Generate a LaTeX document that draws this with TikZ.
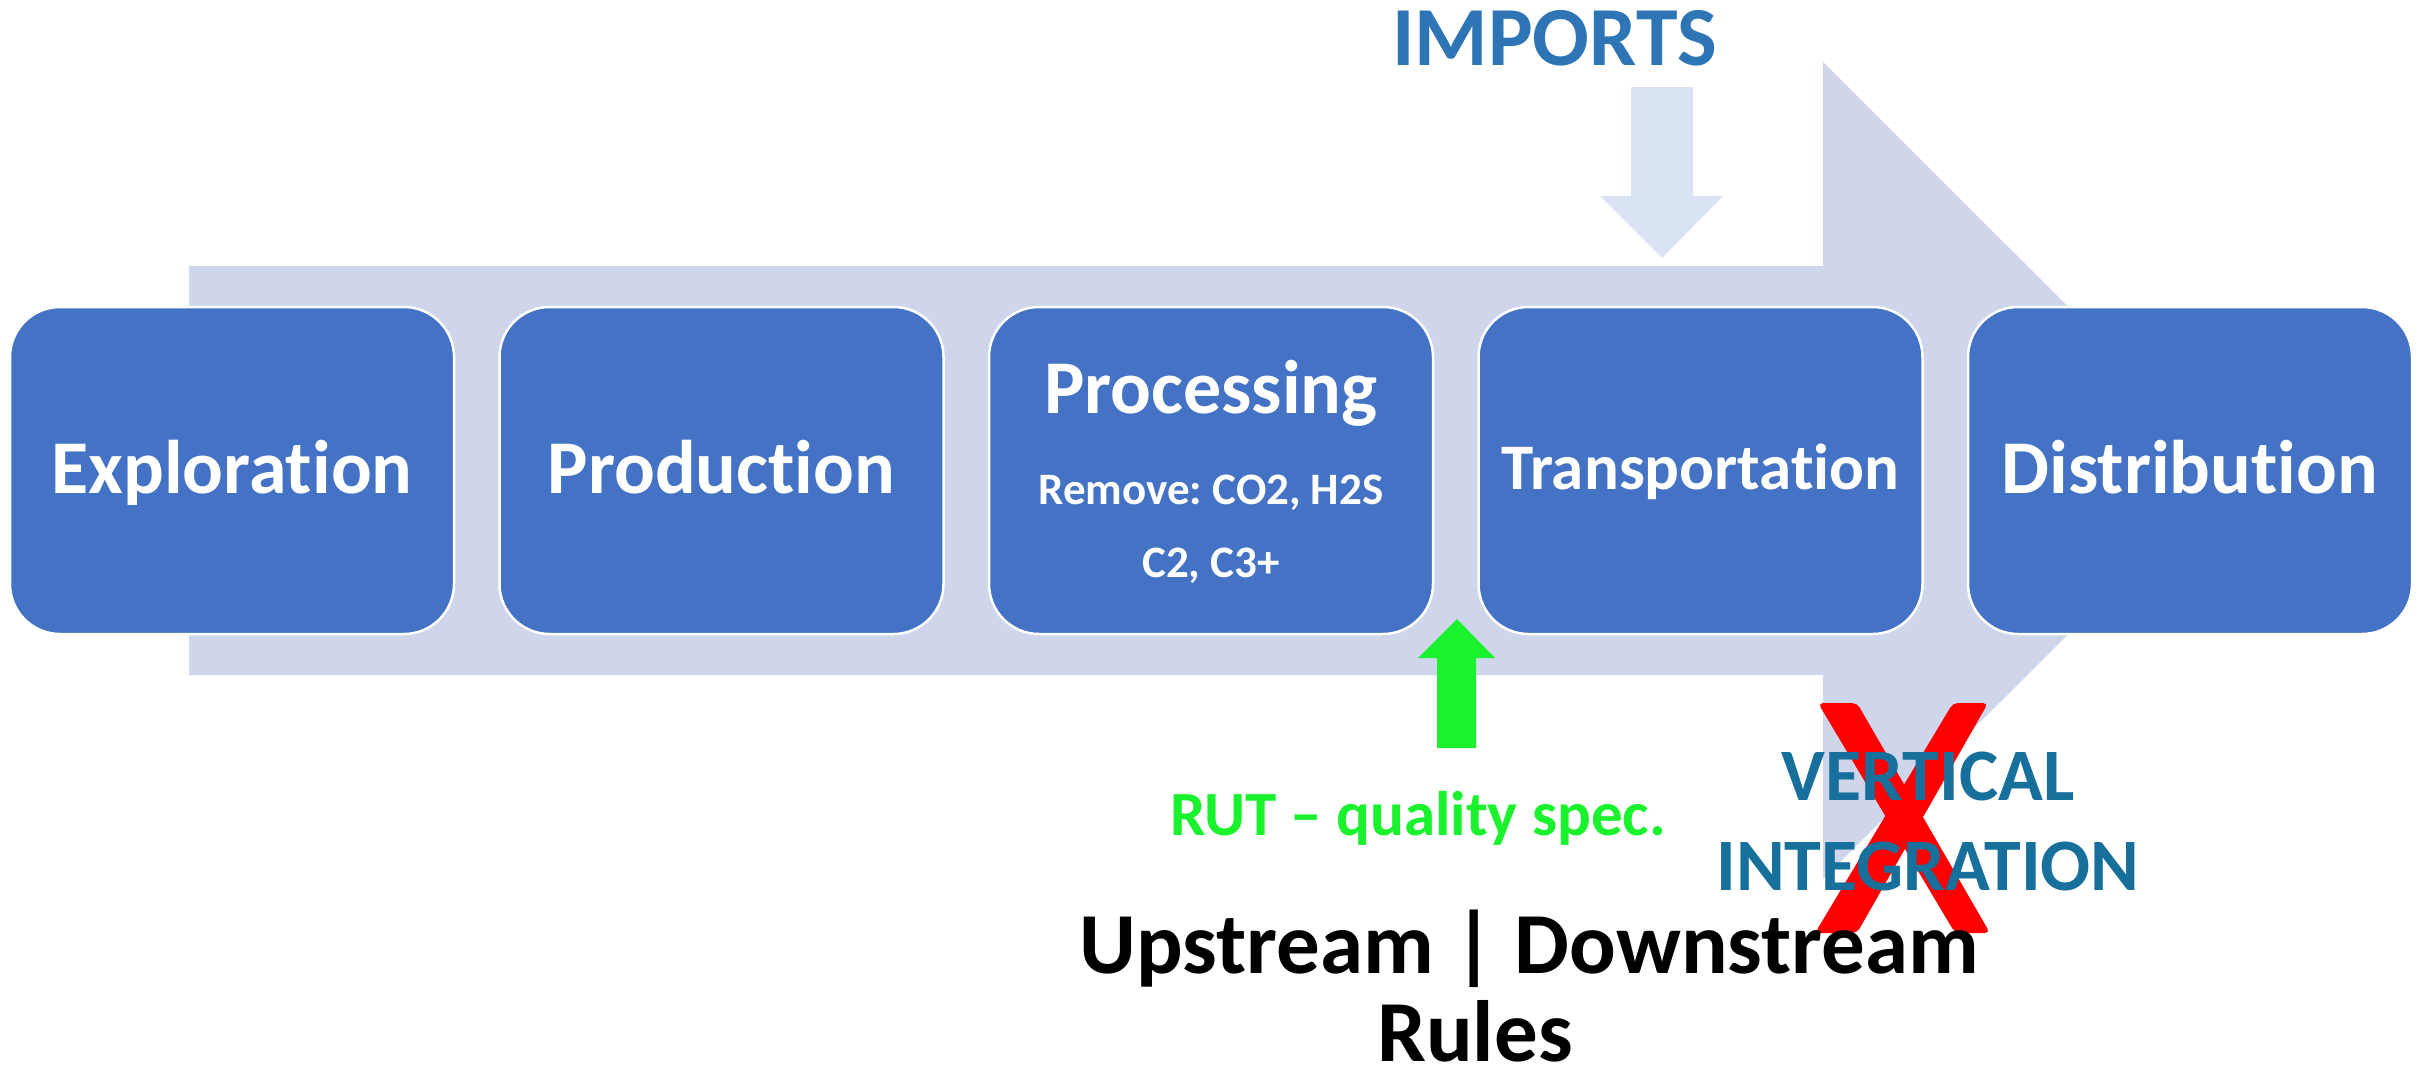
\documentclass[tikz,border=0pt]{standalone}
\usepackage{fontspec}
\setmainfont{Carlito}[RawFeature={-liga;-clig;-dlig}]
\frenchspacing
\definecolor{boxblue}{HTML}{4472C4}
\definecolor{arrowgray}{HTML}{CFD5EA}
\definecolor{importfill}{HTML}{DAE3F3}
\definecolor{importtext}{HTML}{2E75B6}
\definecolor{vitext}{RGB}{23,111,156}
\definecolor{rutgreen}{RGB}{26,242,46}
\definecolor{xred}{RGB}{255,0,0}
\newcommand{\myfs}[1]{\fontsize{#1}{#1}\selectfont\bfseries}
\tikzset{
  stagebox/.style={draw=white, line width=2.5pt, fill=boxblue, rounded corners=50pt,
    minimum width=444pt, minimum height=327pt, inner sep=0pt},
  stagetext/.style={anchor=base, text=white, inner sep=0pt, font={\myfs{76}}},
  plain/.style={anchor=base, inner sep=0pt}
}
\begin{document}
\begin{tikzpicture}[x=1pt,y=-1pt]
\useasboundingbox (0,0) rectangle (2425,1084);
\fill[white] (0,0) rectangle (2425,1084);
% big background arrow
\fill[arrowgray] (189,266) -- (1823,266) -- (1823,62) -- (2232,470.5) -- (1823,879) -- (1823,675) -- (189,675) -- cycle;
% imports arrow
\fill[importfill] (1631,87) -- (1693,87) -- (1693,196) -- (1723,196) -- (1662,258) -- (1600,196) -- (1631,196) -- cycle;
% stage boxes
\node[stagebox] (explo) at (232,470.5) {};
\node[stagebox] (prod) at (721.5,470.5) {};
\node[stagebox] (proc) at (1211,470.5) {};
\node[stagebox] (trans) at (1700.5,470.5) {};
\node[stagebox] (distr) at (2190,470.5) {};
\node[stagetext] (exploT) at (232,493) {Exploration};
\node[stagetext] (prodT) at (721.5,493) {Production};
\node[stagetext] (procT) at (1211,413) {Processing};
\node[stagetext, font={\myfs{45}}] (procT2) at (1211,504) {Remove: CO2, H2S};
\node[stagetext, font={\myfs{45}}] (procT3) at (1211,577) {C2, C3+};
\node[stagetext, font={\myfs{65}}] (transT) at (1700.5,489) {Transportation};
\node[stagetext] (distrT) at (2190,493) {Distribution};
% green arrow
\fill[rutgreen] (1437,748) -- (1437,658) -- (1418,658) -- (1457,619) -- (1495,658) -- (1476,658) -- (1476,748) -- cycle;
% red cross
\fill[xred, rounded corners=5pt] (1818,703) -- (1857,703) -- (1990,933) -- (1955,933) -- cycle;
\fill[xred, rounded corners=5pt] (1953,703) -- (1988,703) -- (1857,933) -- (1815,933) -- cycle;
% texts
\node[plain, text=importtext, font={\myfs{84}}] (imports) at (1554.5,65) {IMPORTS};
\node[plain, text=rutgreen, font={\myfs{63}}] (rut) at (1418,835) {RUT – quality spec.};
\node[plain, text=vitext, font={\myfs{74}}] (vert) at (1928,800) {VERTICAL};
\node[plain, text=vitext, font={\myfs{74}}] (integ) at (1928,890) {INTEGRATION};
\node[plain, font={\myfs{87}}] (updown) at (1529.5,973) {Upstream | Downstream};
\node[plain, font={\myfs{87}}] (rules) at (1475,1061) {Rules};
\end{tikzpicture}
\end{document}
